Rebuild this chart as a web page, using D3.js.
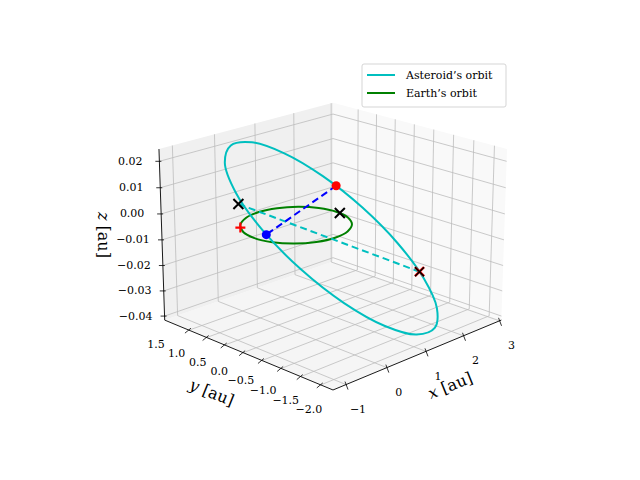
<!DOCTYPE html>
<html><head><meta charset="utf-8">
<script src="https://cdn.jsdelivr.net/npm/d3@7"></script>
<style>body{margin:0;background:#fff}text{font-family:"DejaVu Serif","Liberation Serif",serif}</style>
</head><body><svg id="c" width="640" height="480"></svg>
<script>
const xLim = [-1.31, 3.05], yLim = [-2.3, 2.2], zLim = [-0.0416, 0.0246];
const xTicks = [-1, 0, 1, 2, 3];
const yTicks = [-2.0, -1.5, -1.0, -0.5, 0.0, 0.5, 1.0, 1.5];
const zTicks = [-0.04, -0.03, -0.02, -0.01, 0.00, 0.01, 0.02];
const xTickLabels = ["−1", "0", "1", "2", "3"];
const yTickLabels = ["−2.0", "−1.5", "−1.0", "−0.5", "0.0", "0.5", "1.0", "1.5"];
const zTickLabels = ["−0.04", "−0.03", "−0.02", "−0.01", "0.00", "0.01", "0.02"];
// asteroid orbit sample points [x, y, z]
const asteroidOrbit = [
 [1.791,-1.777,-0.0403],[2.313,-1.344,-0.0379],[2.610,-0.720,-0.0310],[2.638,0.001,-0.0207],
 [2.390,0.709,-0.0085],[1.906,1.297,0.0037],[1.260,1.672,0.0140],[0.549,1.782,0.0209],
 [-0.119,1.607,0.0233],[-0.641,1.174,0.0209],[-0.938,0.550,0.0140],[-0.966,-0.171,0.0037],
 [-0.718,-0.879,-0.0085],[-0.234,-1.467,-0.0207],[0.412,-1.842,-0.0310],[1.123,-1.952,-0.0379]];
const earthOrbit = [
 [1,0,0],[0.924,0.383,0],[0.707,0.707,0],[0.383,0.924,0],[0,1,0],[-0.383,0.924,0],
 [-0.707,0.707,0],[-0.924,0.383,0],[-1,0,0],[-0.924,-0.383,0],[-0.707,-0.707,0],[-0.383,-0.924,0],
 [0,-1,0],[0.383,-0.924,0],[0.707,-0.707,0],[0.924,-0.383,0]];
const redDot = [2.088, 1.121, -0.0002];
const blueDot = [-0.950, -0.256, 0.0023];
const nodeX = [0.046, 1.617, 0];
const earthX = [0.995, -0.1, 0];
const farX = [2.638, -0.582, -0.0292];
const earthPlus = [-0.8, 0.6, 0];
const legendLabels = ["Asteroid’s orbit", "Earth’s orbit"];

const svg = d3.select("#c");
const sx = d3.scaleLinear().domain(xLim).range([-1, 1]);
const sy = d3.scaleLinear().domain(yLim).range([-1, 1]);
const sz = d3.scaleLinear().domain(zLim).range([-0.75, 0.75]);
const az = -135 * Math.PI / 180, el = 19.6 * Math.PI / 180, S = 121, CX = 333, CY = 236, D = 15;
function P(x, y, z) {
  const u = sx(x), v = sy(y), w = sz(z);
  const r = -Math.sin(az) * u + Math.cos(az) * v;
  const up = -Math.cos(az) * Math.sin(el) * u - Math.sin(az) * Math.sin(el) * v + Math.cos(el) * w;
  const dep = Math.cos(az) * Math.cos(el) * u + Math.sin(az) * Math.cos(el) * v + Math.sin(el) * w;
  const f = D / (D - dep);
  return [CX + S * f * r, CY - S * f * up];
}
const Pa = d => P(d[0], d[1], d[2]);
const [x0, x1] = xLim, [y0, y1] = yLim, [z0, z1] = zLim;
const poly = pts => pts.map(p => Pa(p).join(",")).join(" ");
svg.append("polygon").attr("points", poly([[x0,y0,z0],[x1,y0,z0],[x1,y1,z0],[x0,y1,z0]])).attr("fill", "#f5f5f5");
svg.append("polygon").attr("points", poly([[x1,y0,z0],[x1,y1,z0],[x1,y1,z1],[x1,y0,z1]])).attr("fill", "#f9f9f9");
svg.append("polygon").attr("points", poly([[x0,y1,z0],[x1,y1,z0],[x1,y1,z1],[x0,y1,z1]])).attr("fill", "#f0f0f0");
const line = d3.line();
const seg = (a, b, col, w, dash) => svg.append("path").attr("d", line([Pa(a), Pa(b)]))
  .attr("stroke", col).attr("stroke-width", w).attr("fill", "none").attr("stroke-dasharray", dash || null);
const G = "#bcbcbc";
xTicks.forEach(t => { seg([t,y0,z0],[t,y1,z0],G,0.8); seg([t,y1,z0],[t,y1,z1],G,0.8); });
yTicks.forEach(t => { seg([x0,t,z0],[x1,t,z0],G,0.8); seg([x1,t,z0],[x1,t,z1],G,0.8); });
zTicks.forEach(t => { seg([x0,y1,t],[x1,y1,t],G,0.8); seg([x1,y1,t],[x1,y0,t],G,0.8); });
seg([x0,y0,z0],[x1,y0,z0],"#000",0.9);
seg([x0,y0,z0],[x0,y1,z0],"#000",0.9);
seg([x0,y1,z0],[x0,y1,z1],"#000",0.9);
const txt = (p, s, size, anchor, rot) => {
  const t = svg.append("text").attr("x", p[0]).attr("y", p[1]).attr("font-size", size)
    .attr("text-anchor", anchor || "middle").attr("dominant-baseline", "central").text(s);
  if (rot) t.attr("transform", `rotate(${rot},${p[0]},${p[1]})`);
  return t;
};
xTicks.forEach((t, i) => {
  const a = P(t, y0, z0);
  svg.append("line").attr("x1", a[0] - 1).attr("y1", a[1] - 3).attr("x2", a[0] + 2).attr("y2", a[1] + 5).attr("stroke", "#000").attr("stroke-width", 0.8);
  txt([a[0] + 12, a[1] + 25], xTickLabels[i], 11);
});
yTicks.forEach((t, i) => {
  const a = P(x0, t, z0);
  const f = (1.5 - t) / 3.5;
  svg.append("line").attr("x1", a[0] + 2).attr("y1", a[1] - 2).attr("x2", a[0] - 4).attr("y2", a[1] + 3).attr("stroke", "#000").attr("stroke-width", 0.8);
  txt([a[0] - 33 + 21 * f, a[1] + 14 + 11 * f], yTickLabels[i], 11);
});
zTicks.forEach((t, i) => {
  const a = P(x0, y1, t);
  svg.append("line").attr("x1", a[0] - 4).attr("y1", a[1]).attr("x2", a[0] + 2).attr("y2", a[1]).attr("stroke", "#000").attr("stroke-width", 0.8);
  txt([a[0] - 29, a[1]], zTickLabels[i], 11);
});
const lab = (p, rot, v) => { const t = txt(p, "", 16, "middle", rot); t.append("tspan").attr("font-style", "italic").text(v); t.append("tspan").text(" [au]"); };
lab([450, 385], -22, "x");
lab([212, 392], 22, "y");
lab([104, 235], 90, "z");
const closed = d3.line().curve(d3.curveCatmullRomClosed.alpha(0.5));
svg.append("path").attr("d", closed(earthOrbit.map(Pa))).attr("stroke", "green").attr("stroke-width", 2).attr("fill", "none");
svg.append("path").attr("d", closed(asteroidOrbit.map(Pa))).attr("stroke", "#00bfbf").attr("stroke-width", 2).attr("fill", "none");
seg(nodeX, farX, "#00bfbf", 2, "7,4");
seg(redDot, blueDot, "blue", 2, "7,4");
const dot = (p, c) => { const a = Pa(p); svg.append("circle").attr("cx", a[0]).attr("cy", a[1]).attr("r", 4.5).attr("fill", c); };
dot(redDot, "red"); dot(blueDot, "blue");
const cross = (p, c, r, w) => { const a = Pa(p);
  svg.append("path").attr("d", `M${a[0]-r},${a[1]-r}L${a[0]+r},${a[1]+r}M${a[0]-r},${a[1]+r}L${a[0]+r},${a[1]-r}`).attr("stroke", c).attr("stroke-width", w); };
const plus = (p, c, r, w) => { const a = Pa(p);
  svg.append("path").attr("d", `M${a[0]-r},${a[1]}L${a[0]+r},${a[1]}M${a[0]},${a[1]-r}L${a[0]},${a[1]+r}`).attr("stroke", c).attr("stroke-width", w); };
cross(farX, "red", 4.5, 2.5);
cross(farX, "#000", 4.5, 1.5);
cross(nodeX, "#000", 5, 2);
cross(earthX, "#000", 5, 2);
plus(earthPlus, "red", 5, 2.2);
const lg = svg.append("g").attr("transform", "translate(362,64)");
lg.append("rect").attr("width", 144).attr("height", 43).attr("rx", 2).attr("fill", "#fff").attr("fill-opacity", 0.8).attr("stroke", "#d5d5d5");
["#00bfbf", "green"].forEach((c, i) => {
  lg.append("line").attr("x1", 5).attr("x2", 33).attr("y1", 11 + i * 18).attr("y2", 11 + i * 18).attr("stroke", c).attr("stroke-width", 2);
  lg.append("text").attr("x", 44).attr("y", 11 + i * 18).attr("dominant-baseline", "central").attr("font-size", 11).text(legendLabels[i]);
});
</script></body></html>
